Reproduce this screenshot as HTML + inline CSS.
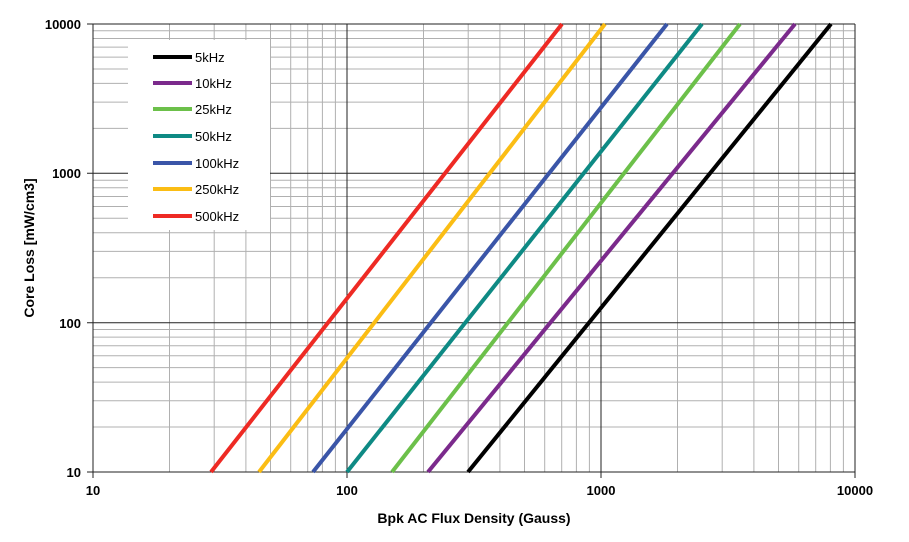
<!DOCTYPE html>
<html><head><meta charset="utf-8"><style>
body{margin:0;background:#fff;width:909px;height:542px;overflow:hidden}
svg{display:block;font-family:"Liberation Sans",Arial,sans-serif}
</style></head><body>
<svg id="s" width="909" height="542" viewBox="0 0 909 542">
<rect width="909" height="542" fill="#fff"/>
<g id="grid"></g>
<rect x="128" y="40" width="142" height="190" fill="#fff"/>
<g stroke-width="4" stroke-linecap="butt">
<line x1="468" y1="472" x2="831" y2="24" stroke="#000"/>
<line x1="428" y1="472" x2="795" y2="24" stroke="#7b2a8c"/>
<line x1="392" y1="472" x2="740" y2="24" stroke="#6cc04a"/>
<line x1="347" y1="472" x2="702" y2="24" stroke="#0e8a84"/>
<line x1="313" y1="472" x2="667" y2="24" stroke="#3a55a8"/>
<line x1="259" y1="472" x2="605" y2="24" stroke="#fbbd14"/>
<line x1="211" y1="472" x2="562" y2="24" stroke="#ee2a24"/>
</g>
<g stroke-width="4">
<line x1="153" y1="57" x2="192" y2="57" stroke="#000"/>
<line x1="153" y1="83" x2="192" y2="83" stroke="#7b2a8c"/>
<line x1="153" y1="109" x2="192" y2="109" stroke="#6cc04a"/>
<line x1="153" y1="136" x2="192" y2="136" stroke="#0e8a84"/>
<line x1="153" y1="163" x2="192" y2="163" stroke="#3a55a8"/>
<line x1="153" y1="189" x2="192" y2="189" stroke="#fbbd14"/>
<line x1="153" y1="216" x2="192" y2="216" stroke="#ee2a24"/>
</g>
<g font-size="13" fill="#000">
<text x="195" y="62">5kHz</text><text x="195" y="88">10kHz</text><text x="195" y="114">25kHz</text>
<text x="195" y="141">50kHz</text><text x="195" y="168">100kHz</text><text x="195" y="194">250kHz</text><text x="195" y="221">500kHz</text>
</g>
<g font-size="13" font-weight="bold" text-anchor="end">
<text x="81" y="29">10000</text><text x="81" y="178">1000</text><text x="81" y="328">100</text><text x="81" y="477">10</text>
</g>
<g font-size="13" font-weight="bold" text-anchor="middle">
<text x="93" y="495">10</text><text x="347" y="495">100</text><text x="601" y="495">1000</text><text x="855" y="495">10000</text>
<text x="474" y="523" font-size="14">Bpk AC Flux Density (Gauss)</text>
<text transform="translate(34,248) rotate(-90)" font-size="14">Core Loss [mW/cm3]</text>
</g>
</svg>
<script>
var g=document.getElementById('grid'),h='';
var X0=93,XD=254,Y0=472,YD=149.33;
for(var d=0;d<3;d++)for(var k=2;k<10;k++){var x=(X0+XD*(d+Math.log10(k))).toFixed(1);h+='<line x1="'+x+'" y1="24" x2="'+x+'" y2="472" stroke="#b0b0b0" stroke-width="1"/>';
var y=(Y0-YD*(d+Math.log10(k))).toFixed(1);h+='<line x1="93" y1="'+y+'" x2="855" y2="'+y+'" stroke="#b0b0b0" stroke-width="1"/>';}
for(var d=0;d<4;d++){var x=X0+XD*d;h+='<line x1="'+x+'" y1="24" x2="'+x+'" y2="478" stroke="#222" stroke-width="1"/>';
var y=(Y0-YD*d).toFixed(1);h+='<line x1="87" y1="'+y+'" x2="855" y2="'+y+'" stroke="#222" stroke-width="1"/>';}
g.innerHTML=h;
</script>
</body></html>
